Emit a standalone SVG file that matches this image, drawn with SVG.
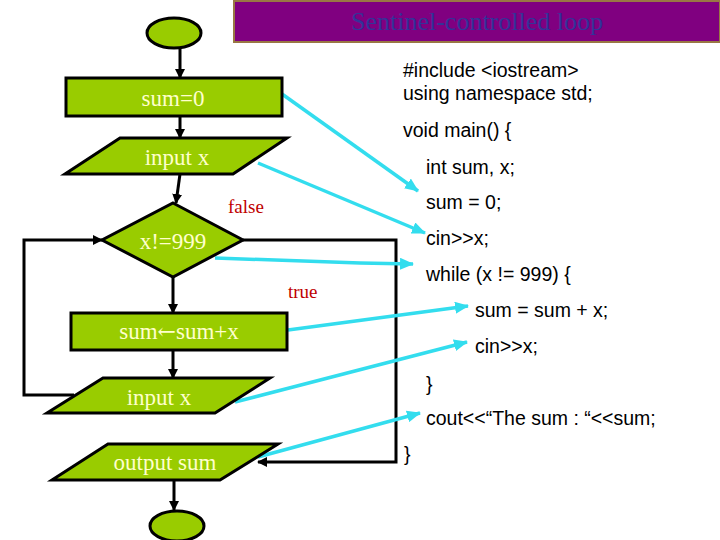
<svg xmlns="http://www.w3.org/2000/svg" width="720" height="540" viewBox="0 0 720 540">
<defs>
<style>
.shape{fill:#99CC00;stroke:#000;stroke-width:3}
.lbl{font-family:"Liberation Serif","Times New Roman",serif;font-size:23px;fill:#FFFFCC;text-anchor:middle}
.code{font-family:"Liberation Sans",Arial,sans-serif;font-size:19.5px;fill:#000}
.cond{font-family:"Liberation Serif","Times New Roman",serif;font-size:19px;fill:#C00000}
.flow{fill:none;stroke:#000;stroke-width:3}
.link{fill:none;stroke:#33DDEE;stroke-width:3.5}
</style>
<marker id="ah" markerWidth="10" markerHeight="10" refX="9" refY="5" orient="auto" markerUnits="userSpaceOnUse">
<path d="M0,0 L10,5 L0,10 Z" fill="#000"/>
</marker>
<marker id="ch" markerWidth="14" markerHeight="12" refX="13" refY="6" orient="auto" markerUnits="userSpaceOnUse">
<path d="M0,0 L14,6 L0,12 Z" fill="#33DDEE"/>
</marker>
</defs>
<rect width="720" height="540" fill="#fff"/>
<g id="title">
<rect x="234" y="1" width="486" height="41" fill="#800080" stroke="#997744" stroke-width="2"/>
<text x="477" y="30" font-family="'Liberation Serif','Times New Roman',serif" font-size="26" fill="#333399" text-anchor="middle">Sentinel-controlled loop</text>
</g>
<g id="connectors">
<line class="flow" x1="180" y1="48" x2="180" y2="78" marker-end="url(#ah)"/>
<line class="flow" x1="180" y1="116" x2="180" y2="138" marker-end="url(#ah)"/>
<line class="flow" x1="180" y1="174" x2="176" y2="203" marker-end="url(#ah)"/>
<line class="flow" x1="173" y1="277" x2="173" y2="313" marker-end="url(#ah)"/>
<line class="flow" x1="173" y1="350" x2="173" y2="378" marker-end="url(#ah)"/>
<polyline class="flow" points="74,395 24,395 24,240 102,240" marker-end="url(#ah)"/>
<polyline class="flow" points="243,240 396,240 396,462 258,462" marker-end="url(#ah)"/>
<line class="flow" x1="174" y1="480" x2="174" y2="510" marker-end="url(#ah)"/>
<line class="link" x1="282" y1="94" x2="418" y2="191" marker-end="url(#ch)"/>
<line class="link" x1="258" y1="163" x2="425" y2="233" marker-end="url(#ch)"/>
<polyline class="link" points="215,258 360,263 413,264" marker-end="url(#ch)"/>
<line class="link" x1="288" y1="330" x2="468" y2="306" marker-end="url(#ch)"/>
<line class="link" x1="235" y1="402" x2="467" y2="342" marker-end="url(#ch)"/>
<line class="link" x1="258" y1="457" x2="420" y2="413" marker-end="url(#ch)"/>
</g>
<g id="start"><ellipse class="shape" cx="174" cy="33" rx="27" ry="15"/></g>
<g id="init"><rect class="shape" x="66" y="78" width="216" height="38"/><text class="lbl" x="173" y="106">sum=0</text></g>
<g id="input1"><polygon class="shape" points="120,138 287,138 233,174 65,174"/><text class="lbl" x="177" y="165">input x</text></g>
<g id="decision"><polygon class="shape" points="173,203 243,240 173,277 102,240"/><text class="lbl" x="173" y="249">x!=999</text></g>
<text class="cond" x="228" y="213">false</text>
<text class="cond" x="288" y="298">true</text>
<g id="update"><rect class="shape" x="71" y="313" width="216" height="37"/><text class="lbl" x="179" y="339">sum<tspan font-family="'DejaVu Serif','DejaVu Sans',serif" font-size="22">←</tspan>sum+x</text></g>
<g id="input2"><polygon class="shape" points="103,378 270,378 215,413 47,413"/><text class="lbl" x="159" y="405">input x</text></g>
<g id="output"><polygon class="shape" points="108,444 278,444 220,480 52,480"/><text class="lbl" x="165" y="470">output sum</text></g>
<g id="end"><ellipse class="shape" cx="177" cy="526" rx="27" ry="15"/></g>
<g id="code">
<text class="code" x="403" y="77">#include &lt;iostream&gt;</text>
<text class="code" x="403" y="100">using namespace std;</text>
<text class="code" x="403" y="137">void main() {</text>
<text class="code" x="426" y="174">int sum, x;</text>
<text class="code" x="426" y="209">sum = 0;</text>
<text class="code" x="426" y="245">cin&gt;&gt;x;</text>
<text class="code" x="426" y="281">while (x != 999) {</text>
<text class="code" x="475" y="317">sum = sum + x;</text>
<text class="code" x="475" y="353">cin&gt;&gt;x;</text>
<text class="code" x="426" y="391">}</text>
<text class="code" x="426" y="425">cout&lt;&lt;“The sum : “&lt;&lt;sum;</text>
<text class="code" x="404" y="461">}</text>
</g>
</svg>
